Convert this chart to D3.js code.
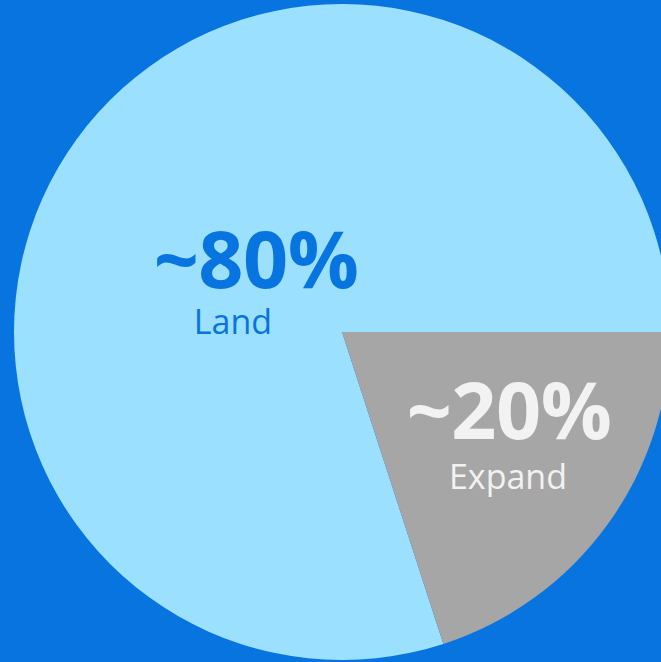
<!DOCTYPE html>
<html>
<head>
<meta charset="utf-8">
<script src="https://cdn.jsdelivr.net/npm/d3@7"></script>
<style>
  html, body { margin: 0; padding: 0; background: #0874e0; overflow: hidden; }
  svg { display: block; }
</style>
</head>
<body>
<svg id="chart" width="661" height="662"></svg>
<script>
// Share of effort: land vs expand
const categories = ["Land", "Expand"];
const values = [80, 20];
const valueLabels = ["~80%", "~20%"];

const colors = { Land: "#9be0ff", Expand: "#a6a6a6" };
const textColors = { Land: "#0874e0", Expand: "#f2f2f2" };

const width = 661, height = 662;
const cx = 342, cy = 332, radius = 328;

const svg = d3.select("#chart");
svg.append("rect").attr("width", width).attr("height", height).attr("fill", "#0874e0");

const data = categories.map((c, i) => ({ category: c, value: values[i], label: valueLabels[i] }));

// Expand slice starts at 3 o'clock and runs clockwise; Land fills the rest
const expandSpan = 2 * Math.PI * values[1] / d3.sum(values);
const pie = d3.pie()
  .value(d => d.value)
  .sort(null)
  .startAngle(Math.PI / 2 + expandSpan)
  .endAngle(Math.PI / 2 + expandSpan + 2 * Math.PI);

const arc = d3.arc().innerRadius(0).outerRadius(radius);

const g = svg.append("g").attr("transform", `translate(${cx},${cy})`);
const arcs = pie(data);

g.selectAll("path.slice")
  .data(arcs)
  .join("path")
  .attr("class", "slice")
  .attr("d", arc)
  .attr("fill", d => colors[d.data.category]);

// label placement for each slice (value line + category line)
const labelPos = {
  Land:   { big: [-86, -44], small: [-109, 2] },
  Expand: { big: [167, 107], small: [166, 157] }
};

const labels = g.selectAll("g.label")
  .data(arcs)
  .join("g")
  .attr("class", "label")
  .attr("font-family", "'Open Sans', 'Noto Sans', sans-serif")
  .attr("text-anchor", "middle")
  .attr("fill", d => textColors[d.data.category]);

labels.append("text")
  .attr("x", d => labelPos[d.data.category].big[0])
  .attr("y", d => labelPos[d.data.category].big[1])
  .attr("font-size", 79)
  .attr("font-weight", 700)
  .attr("letter-spacing", -0.5)
  .text(d => d.data.label);

labels.append("text")
  .attr("x", d => labelPos[d.data.category].small[0])
  .attr("y", d => labelPos[d.data.category].small[1])
  .attr("font-size", 34)
  .text(d => d.data.category);
</script>
</body>
</html>
